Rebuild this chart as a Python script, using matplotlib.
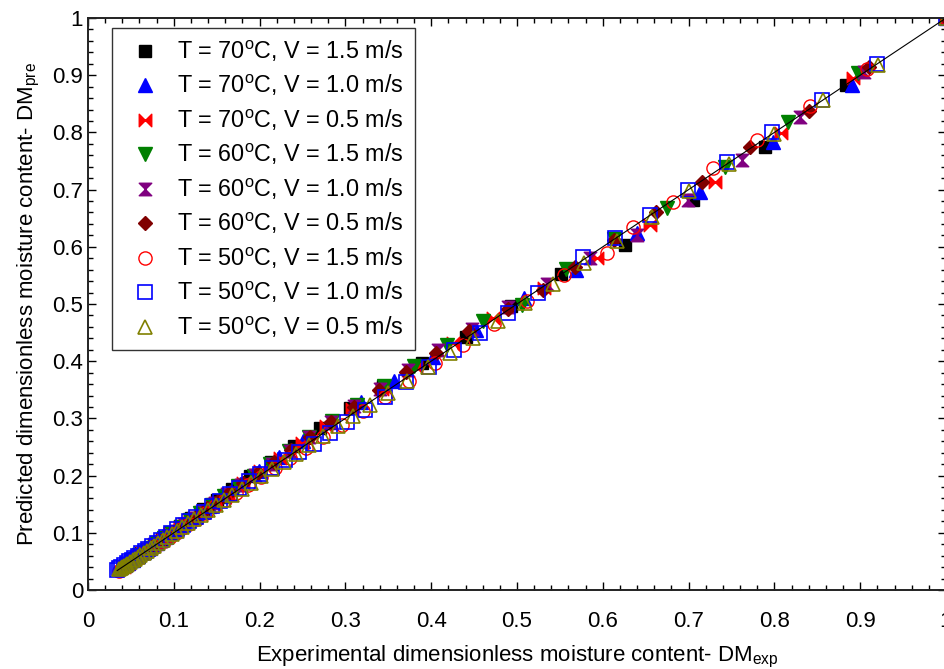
import matplotlib
matplotlib.use("Agg")
import matplotlib.pyplot as plt
from matplotlib.path import Path
from matplotlib.ticker import MultipleLocator, FuncFormatter

plt.rcParams['font.family'] = ['Liberation Sans', 'DejaVu Sans']
plt.rcParams['mathtext.default'] = 'regular'

labels = [
    "T = 70$^{o}$C, V = 1.5 m/s",
    "T = 70$^{o}$C, V = 1.0 m/s",
    "T = 70$^{o}$C, V = 0.5 m/s",
    "T = 60$^{o}$C, V = 1.5 m/s",
    "T = 60$^{o}$C, V = 1.0 m/s",
    "T = 60$^{o}$C, V = 0.5 m/s",
    "T = 50$^{o}$C, V = 1.5 m/s",
    "T = 50$^{o}$C, V = 1.0 m/s",
    "T = 50$^{o}$C, V = 0.5 m/s",
]

# 70 C, 1.5 m/s
exp_70_15 = [1.000, 0.884, 0.789, 0.705, 0.626, 0.551, 0.493, 0.440, 0.389, 0.344,
             0.305, 0.270, 0.240, 0.213, 0.189, 0.168, 0.150, 0.134, 0.120, 0.107,
             0.096, 0.086, 0.077, 0.069, 0.062, 0.056, 0.051, 0.046]
pre_70_15 = [1.000, 0.883, 0.774, 0.682, 0.603, 0.552, 0.496, 0.442, 0.397, 0.356,
             0.318, 0.283, 0.252, 0.224, 0.199, 0.177, 0.158, 0.141, 0.126, 0.112,
             0.100, 0.090, 0.080, 0.072, 0.064, 0.057, 0.051, 0.046]
# 70 C, 1.0 m/s
exp_70_10 = [1.000, 0.890, 0.798, 0.713, 0.640, 0.569, 0.508, 0.452, 0.402, 0.357,
             0.318, 0.283, 0.251, 0.223, 0.199, 0.177, 0.158, 0.141, 0.126, 0.112,
             0.100, 0.090, 0.081, 0.072, 0.065, 0.058, 0.052, 0.047, 0.043]
pre_70_10 = [1.000, 0.883, 0.783, 0.696, 0.625, 0.560, 0.510, 0.455, 0.408, 0.366,
             0.328, 0.293, 0.261, 0.233, 0.208, 0.185, 0.165, 0.147, 0.131, 0.117,
             0.104, 0.093, 0.083, 0.074, 0.066, 0.059, 0.053, 0.048, 0.043]
# 70 C, 0.5 m/s
exp_70_05 = [1.000, 0.892, 0.808, 0.731, 0.655, 0.593, 0.531, 0.472, 0.425, 0.382,
             0.343, 0.308, 0.277, 0.249, 0.224, 0.201, 0.181, 0.163, 0.147, 0.132,
             0.119, 0.107, 0.096, 0.087, 0.078, 0.070, 0.063, 0.057, 0.051, 0.046,
             0.042]
pre_70_05 = [1.000, 0.895, 0.799, 0.713, 0.638, 0.580, 0.528, 0.475, 0.432, 0.390,
             0.352, 0.317, 0.286, 0.257, 0.231, 0.208, 0.187, 0.168, 0.151, 0.136,
             0.122, 0.110, 0.099, 0.089, 0.080, 0.072, 0.064, 0.058, 0.052, 0.046,
             0.041]
# 60 C, 1.5 m/s
exp_60_15 = [1.000, 0.897, 0.816, 0.743, 0.675, 0.613, 0.557, 0.506, 0.460, 0.418,
             0.380, 0.345, 0.313, 0.284, 0.258, 0.234, 0.212, 0.193, 0.175, 0.159,
             0.144, 0.131, 0.119, 0.108, 0.098, 0.089, 0.081, 0.073, 0.066, 0.060,
             0.055, 0.050, 0.045, 0.041]
pre_60_15 = [1.000, 0.904, 0.818, 0.740, 0.668, 0.614, 0.562, 0.498, 0.470, 0.429,
             0.391, 0.356, 0.324, 0.295, 0.268, 0.243, 0.221, 0.200, 0.182, 0.165,
             0.149, 0.135, 0.122, 0.111, 0.100, 0.091, 0.082, 0.074, 0.067, 0.061,
             0.055, 0.050, 0.045, 0.041]
# 60 C, 1.0 m/s
exp_60_10 = [1.000, 0.905, 0.830, 0.762, 0.699, 0.640, 0.585, 0.535, 0.489, 0.447,
             0.408, 0.373, 0.340, 0.310, 0.283, 0.258, 0.235, 0.214, 0.195, 0.178,
             0.162, 0.148, 0.135, 0.123, 0.112, 0.102, 0.093, 0.085, 0.077, 0.070,
             0.064, 0.058, 0.053, 0.048, 0.044, 0.040]
pre_60_10 = [1.000, 0.906, 0.827, 0.752, 0.682, 0.620, 0.580, 0.535, 0.495, 0.456,
             0.419, 0.384, 0.351, 0.321, 0.293, 0.267, 0.243, 0.221, 0.201, 0.183,
             0.167, 0.152, 0.138, 0.126, 0.115, 0.104, 0.095, 0.086, 0.078, 0.071,
             0.065, 0.059, 0.053, 0.048, 0.044, 0.040]
# 60 C, 0.5 m/s
exp_60_05 = [1.000, 0.910, 0.840, 0.772, 0.716, 0.662, 0.613, 0.568, 0.530, 0.490,
             0.444, 0.406, 0.371, 0.339, 0.310, 0.283, 0.259, 0.237, 0.217, 0.198,
             0.181, 0.166, 0.152, 0.139, 0.127, 0.116, 0.106, 0.097, 0.089, 0.081,
             0.074, 0.068, 0.062, 0.057, 0.052, 0.048, 0.044, 0.040]
pre_60_05 = [1.000, 0.915, 0.838, 0.774, 0.713, 0.660, 0.612, 0.565, 0.524, 0.492,
             0.452, 0.415, 0.381, 0.349, 0.320, 0.293, 0.268, 0.245, 0.224, 0.205,
             0.187, 0.171, 0.156, 0.143, 0.130, 0.119, 0.109, 0.099, 0.091, 0.083,
             0.075, 0.069, 0.063, 0.057, 0.052, 0.048, 0.044, 0.040]
# 50 C, 1.5 m/s
exp_50_15 = [1.000, 0.908, 0.841, 0.780, 0.729, 0.682, 0.635, 0.605, 0.555, 0.512,
             0.473, 0.437, 0.404, 0.374, 0.346, 0.320, 0.296, 0.274, 0.254, 0.235,
             0.218, 0.202, 0.187, 0.173, 0.160, 0.148, 0.137, 0.127, 0.118, 0.110,
             0.102, 0.095, 0.088, 0.082, 0.076, 0.071, 0.066, 0.061, 0.057, 0.053,
             0.049, 0.045, 0.042, 0.039, 0.036]
pre_50_15 = [1.000, 0.911, 0.846, 0.787, 0.738, 0.678, 0.635, 0.589, 0.550, 0.505,
             0.465, 0.429, 0.396, 0.366, 0.338, 0.313, 0.289, 0.268, 0.248, 0.230,
             0.213, 0.198, 0.184, 0.170, 0.158, 0.146, 0.135, 0.125, 0.116, 0.108,
             0.100, 0.093, 0.086, 0.080, 0.074, 0.069, 0.064, 0.059, 0.055, 0.051,
             0.047, 0.043, 0.040, 0.037, 0.034]
# 50 C, 1.0 m/s
exp_50_10 = [1.000, 0.920, 0.855, 0.797, 0.745, 0.699, 0.655, 0.614, 0.577, 0.525,
             0.490, 0.457, 0.426, 0.398, 0.371, 0.346, 0.323, 0.302, 0.282, 0.263,
             0.246, 0.230, 0.215, 0.201, 0.188, 0.176, 0.165, 0.154, 0.144, 0.135,
             0.126, 0.118, 0.111, 0.104, 0.097, 0.091, 0.085, 0.080, 0.075, 0.070,
             0.066, 0.062, 0.058, 0.054, 0.051, 0.048, 0.045, 0.042, 0.039, 0.036,
             0.034]
pre_50_10 = [1.000, 0.920, 0.857, 0.800, 0.748, 0.699, 0.656, 0.615, 0.582, 0.520,
             0.484, 0.450, 0.419, 0.390, 0.363, 0.338, 0.315, 0.294, 0.274, 0.256,
             0.242, 0.228, 0.214, 0.202, 0.190, 0.178, 0.167, 0.156, 0.146, 0.137,
             0.128, 0.120, 0.113, 0.106, 0.099, 0.093, 0.087, 0.082, 0.077, 0.072,
             0.068, 0.064, 0.060, 0.056, 0.053, 0.050, 0.047, 0.044, 0.041, 0.038,
             0.035]
# 50 C, 0.5 m/s
exp_50_05 = [1.000, 0.921, 0.857, 0.800, 0.747, 0.700, 0.657, 0.616, 0.578, 0.542,
             0.509, 0.478, 0.449, 0.422, 0.396, 0.372, 0.350, 0.329, 0.309, 0.291,
             0.274, 0.258, 0.243, 0.228, 0.215, 0.202, 0.190, 0.179, 0.168, 0.158,
             0.149, 0.140, 0.132, 0.124, 0.117, 0.110, 0.104, 0.098, 0.092, 0.087,
             0.082, 0.077, 0.073, 0.069, 0.065, 0.061, 0.058, 0.055, 0.052, 0.049,
             0.046, 0.044, 0.042, 0.040, 0.038, 0.036]
pre_50_05 = [1.000, 0.918, 0.857, 0.798, 0.745, 0.697, 0.652, 0.610, 0.571, 0.535,
             0.501, 0.470, 0.441, 0.414, 0.389, 0.366, 0.344, 0.323, 0.304, 0.286,
             0.269, 0.253, 0.238, 0.224, 0.211, 0.199, 0.187, 0.176, 0.166, 0.157,
             0.148, 0.139, 0.131, 0.124, 0.117, 0.110, 0.104, 0.098, 0.092, 0.087,
             0.082, 0.077, 0.073, 0.069, 0.065, 0.061, 0.058, 0.055, 0.052, 0.049,
             0.046, 0.044, 0.042, 0.040, 0.038, 0.036]

exp_series = [exp_70_15, exp_70_10, exp_70_05, exp_60_15, exp_60_10, exp_60_05,
              exp_50_15, exp_50_10, exp_50_05]
pre_series = [pre_70_15, pre_70_10, pre_70_05, pre_60_15, pre_60_10, pre_60_05,
              pre_50_15, pre_50_10, pre_50_05]

# custom markers
bowtie = Path([(-1, -1), (0, 0), (-1, 1), (-1, -1), (1, -1), (0, 0), (1, 1), (1, -1)],
              [Path.MOVETO, Path.LINETO, Path.LINETO, Path.CLOSEPOLY,
               Path.MOVETO, Path.LINETO, Path.LINETO, Path.CLOSEPOLY])
hourglass = Path([(-1, 1), (1, 1), (0, 0), (-1, 1), (-1, -1), (1, -1), (0, 0), (-1, -1)],
                 [Path.MOVETO, Path.LINETO, Path.LINETO, Path.CLOSEPOLY,
                  Path.MOVETO, Path.LINETO, Path.LINETO, Path.CLOSEPOLY])

styles = [
    dict(marker='s', color='black', mfc='black', ms=8.5),
    dict(marker='^', color='blue', mfc='blue', ms=9.5),
    dict(marker=bowtie, color='red', mfc='red', ms=9),
    dict(marker='v', color='green', mfc='green', ms=9.5),
    dict(marker=hourglass, color='purple', mfc='purple', ms=9),
    dict(marker='D', color='#800000', mfc='#800000', ms=7),
    dict(marker='o', color='red', mfc='none', ms=9.5, mew=1.0),
    dict(marker='s', color='blue', mfc='none', ms=9.5, mew=1.2),
    dict(marker='^', color='#808000', mfc='none', ms=10, mew=1.2),
]

fig = plt.figure(figsize=(9.45, 6.69), dpi=100)
ax = fig.add_axes([88/945, 79/669, 858/945, 572/669])

lo = min(min(s) for s in exp_series)
ax.plot([lo, 1.0], [lo, 1.0], color='black', lw=0.8, zorder=5)

for ex, pr, lab, st in zip(exp_series, pre_series, labels, styles):
    st = dict(st)
    c = st.pop('color')
    ax.plot(ex, pr, linestyle='none', mec=c, label=lab, **st)

ax.set_xlim(0, 1)
ax.set_ylim(0, 1)
ax.xaxis.set_major_locator(MultipleLocator(0.1))
ax.yaxis.set_major_locator(MultipleLocator(0.1))
ax.xaxis.set_minor_locator(MultipleLocator(0.02))
ax.yaxis.set_minor_locator(MultipleLocator(0.02))
fmt = FuncFormatter(lambda v, p: ('%.1f' % v).rstrip('0').rstrip('.') if abs(v) > 1e-9 else '0')
ax.xaxis.set_major_formatter(fmt)
ax.yaxis.set_major_formatter(fmt)
ax.tick_params(which='both', direction='in', top=True, right=True, labelsize=16, width=1.0)
ax.tick_params(which='major', length=6)
ax.tick_params(which='minor', length=3.5)
ax.tick_params(axis='x', pad=15)
for sp in ax.spines.values():
    sp.set_linewidth(1.4)
    sp.set_color('#222222')

ax.set_xlabel("Experimental dimensionless moisture content- DM$_{exp}$", fontsize=16, labelpad=9)
ax.set_ylabel("Predicted dimensionless moisture content- DM$_{pre}$", fontsize=16, labelpad=7)

leg = ax.legend(loc='upper left', bbox_to_anchor=(24/858, 1 - 10/572), borderaxespad=0,
                fontsize=16.8, frameon=True, fancybox=False, edgecolor='black',
                handlelength=1.9, handletextpad=0.45, labelspacing=0.4, borderpad=0.45,
                numpoints=1)
leg.get_frame().set_linewidth(1.0)

fig.savefig('out.png', dpi=100)
